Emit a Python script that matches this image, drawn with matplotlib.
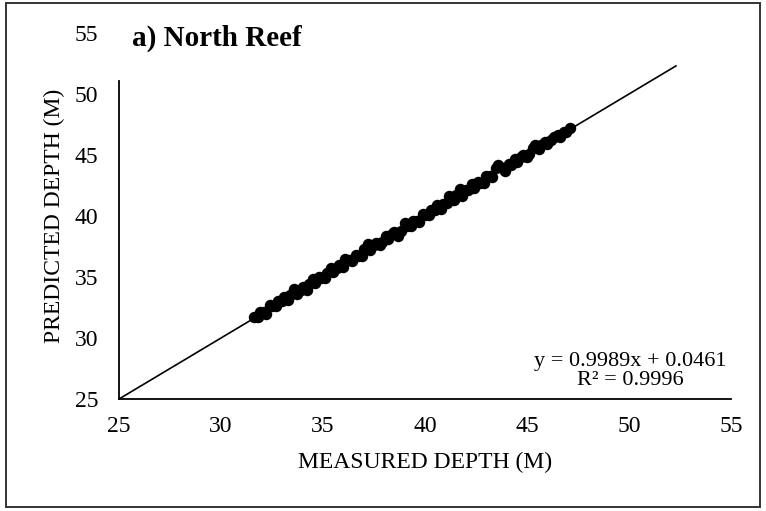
import matplotlib.pyplot as plt
from matplotlib.patches import Rectangle

plt.rcParams["font.family"] = ["Liberation Serif", "DejaVu Serif"]

# measured vs predicted depth
measured = [31.6, 31.8, 31.9, 32.1, 32.2, 32.4, 32.5, 32.7, 32.8, 33.0,
            33.1, 33.3, 33.4, 33.6, 33.7, 33.9, 34.0, 34.2, 34.3, 34.5,
            34.6, 34.8, 34.9, 35.1, 35.2, 35.4, 35.5, 35.7, 35.8, 36.0,
            36.1, 36.3, 36.4, 36.6, 36.7, 36.9, 37.0, 37.2, 37.3, 37.5,
            37.6, 37.8, 37.9, 38.1, 38.2, 38.4, 38.5, 38.7, 38.8, 39.0,
            39.1, 39.3, 39.4, 39.6, 39.7, 39.9, 40.0, 40.2, 40.3, 40.5,
            40.6, 40.8, 40.9, 41.1, 41.2, 41.4, 41.5, 41.7, 41.8, 42.0,
            42.1, 42.3, 42.4, 42.6, 42.7, 42.9, 43.0, 43.2, 43.3, 43.5,
            43.6, 43.8, 43.9, 44.1, 44.2, 44.4, 44.5, 44.7, 44.8, 45.0,
            45.1, 45.3, 45.4, 45.6, 45.7, 45.9, 46.0, 46.2, 46.3, 46.5,
            46.6, 46.8, 46.9, 47.1]
predicted = [31.7, 31.7, 32.1, 32.1, 32.0, 32.7, 32.6, 32.6, 33.0, 33.0,
             33.4, 33.1, 33.5, 34.0, 33.6, 33.9, 34.2, 33.9, 34.4, 34.8,
             34.5, 35.0, 34.9, 34.9, 35.3, 35.7, 35.4, 35.7, 36.0, 35.8,
             36.5, 36.4, 36.3, 36.8, 36.7, 36.7, 37.3, 37.7, 37.2, 37.6,
             37.8, 37.6, 37.9, 38.4, 38.1, 38.5, 38.7, 38.4, 38.8, 39.4,
             39.2, 39.2, 39.6, 39.6, 39.5, 40.2, 40.1, 40.1, 40.5, 40.5,
             40.9, 40.6, 41.0, 41.1, 41.6, 41.3, 41.7, 42.2, 41.6, 42.1,
             42.1, 42.6, 42.3, 42.8, 42.7, 42.7, 43.3, 43.3, 43.2, 43.9,
             44.2, 43.9, 43.7, 44.3, 44.2, 44.7, 44.4, 44.8, 45.0, 44.8,
             45.1, 45.6, 45.8, 45.5, 45.8, 46.1, 45.9, 46.2, 46.5, 46.6,
             46.5, 46.9, 46.9, 47.2]
line_x = [25, 52.3]
line_y = [25, 52.3]
ticks = [25, 30, 35, 40, 45, 50, 55]

fig = plt.figure(figsize=(7.66, 5.11), dpi=100)
ax = fig.add_axes([0.1554, 0.2192, 0.7989, 0.7162])

ax.plot(line_x, line_y, color="black", lw=1.2, zorder=2)
ax.scatter(measured, predicted, s=68, color="black", linewidths=0, zorder=3)

ax.set_xlim(25, 55)
ax.set_ylim(25, 55)
ax.set_xticks(ticks)
ax.set_yticks(ticks)
ax.tick_params(length=0, labelsize=17)
ax.tick_params(axis="x", pad=12)
ax.tick_params(axis="y", pad=15)
ax.spines["top"].set_visible(False)
ax.spines["right"].set_visible(False)
ax.spines["left"].set_bounds(25, 51.1)
ax.spines["left"].set_linewidth(1.3)
ax.spines["bottom"].set_linewidth(1.3)

fig.text(425/766, 1 - 462/511, "MEASURED DEPTH (M)", ha="center", va="center", fontsize=17)
fig.text(54/766, 1 - 216/511, "PREDICTED DEPTH (M)", ha="center", va="center",
         rotation=90, fontsize=17)
fig.text(132/766, 1 - 46/511, "a) North Reef", ha="left", va="baseline",
         fontsize=21, fontweight="bold")
fig.text(630/766, 1 - 371/511, "y = 0.9989x + 0.0461\nR² = 0.9996", ha="center",
         va="center", multialignment="center", fontsize=16, linespacing=1.0)

fig.patches.append(Rectangle((6/766, 1 - 507/511), 754/766, 504/511,
                             transform=fig.transFigure, fill=False,
                             edgecolor="#333333", lw=1.4))

plt.savefig("out.png", dpi=100)
